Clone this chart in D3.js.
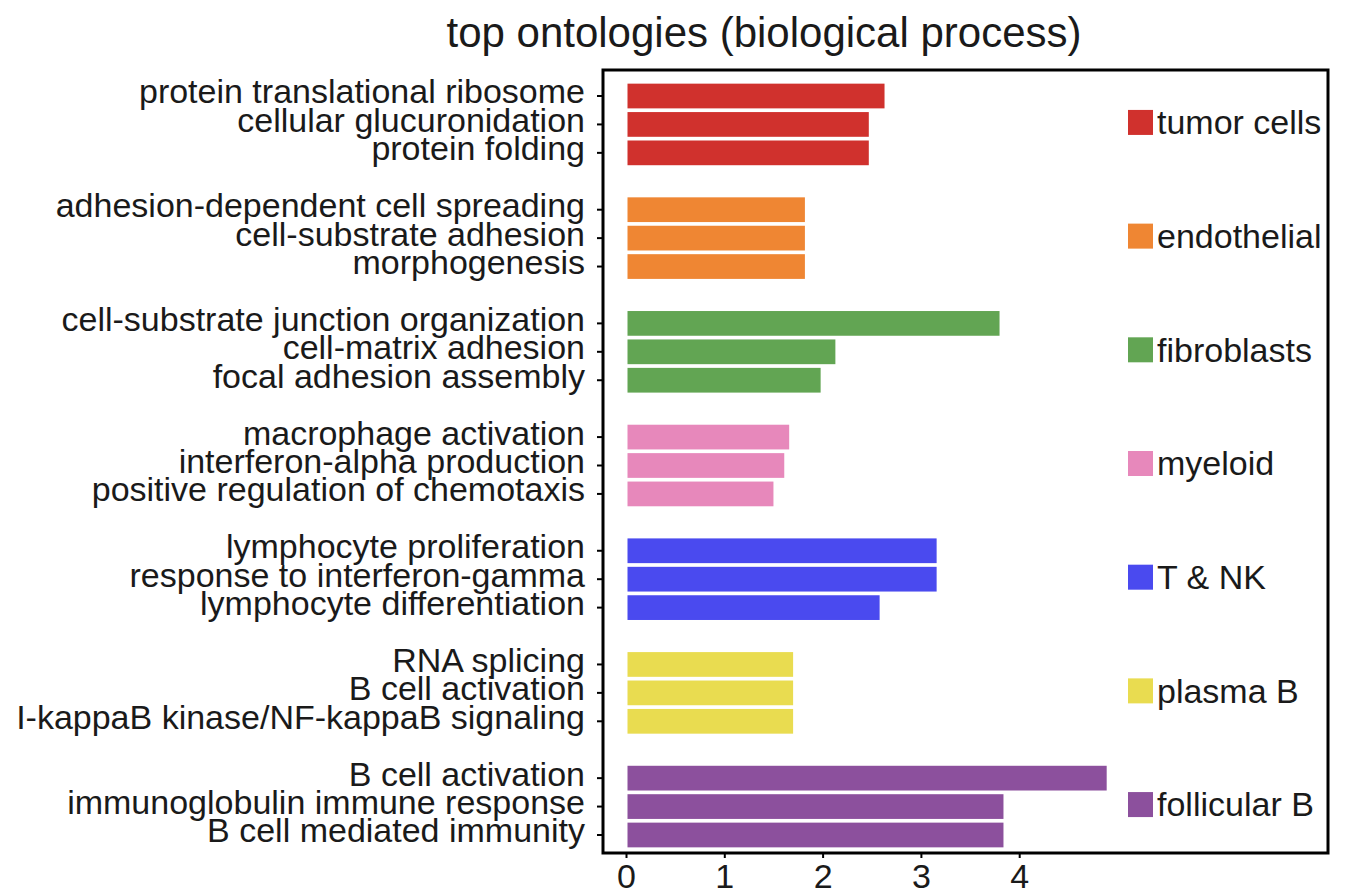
<!DOCTYPE html>
<html>
<head>
<meta charset="utf-8">
<script src="https://cdn.jsdelivr.net/npm/d3@7"></script>
<style>
  body { margin: 0; background: #fff; }
  text { font-family: "Liberation Sans", Arial, sans-serif; fill: #1a1a1a; }
</style>
</head>
<body>
<script>
// cell types (one group of 3 processes each) and their colours
var cellTypes = ["tumor cells", "endothelial", "fibroblasts", "myeloid", "T & NK", "plasma B", "follicular B"];
var colors = ["#d0312d", "#ef8633", "#62a553", "#e788bb", "#4a4aef", "#e9dc50", "#8c509d"];

// processes, top to bottom
var processes = [
    "protein translational ribosome", "cellular glucuronidation", "protein folding",
    "adhesion-dependent cell spreading", "cell-substrate adhesion", "morphogenesis",
    "cell-substrate junction organization", "cell-matrix adhesion", "focal adhesion assembly",
    "macrophage activation", "interferon-alpha production", "positive regulation of chemotaxis",
    "lymphocyte proliferation", "response to interferon-gamma", "lymphocyte differentiation",
    "RNA splicing", "B cell activation", "I-kappaB kinase/NF-kappaB signaling",
    "B cell activation", "immunoglobulin immune response", "B cell mediated immunity"
];
var scores = [
    2.63, 2.47, 2.47,
    1.82, 1.82, 1.82,
    3.80, 2.13, 1.98,
    1.66, 1.61, 1.50,
    3.16, 3.16, 2.58,
    1.70, 1.70, 1.70,
    4.89, 3.84, 3.84
];
var xTicks = [0, 1, 2, 3, 4];

var w = 1349, h = 888;
var frame = {left: 603, right: 1328, top: 70, bottom: 853};

var svg = d3.select("body")
    .append("svg")
    .attr("width", w)
    .attr("height", h);

// each group takes 3 slots plus one empty slot between groups
function slotOf(i) {
    return Math.floor(i / 3) * 4 + (i % 3);
}
var nSlots = cellTypes.length * 4 - 1;

var x = d3.scaleLinear()
    .domain([0, 4])
    .range([626, 1019.2]);

var y = d3.scaleBand()
    .domain(d3.range(nSlots))
    .range([81.8, 849.2])
    .paddingInner(0.13)
    .paddingOuter(0.065);

// bars
svg.selectAll("rect.bar")
    .data(scores)
    .enter()
    .append("rect")
    .attr("class", "bar")
    .attr("x", x(0) + 1.5)
    .attr("y", function(d, i) { return y(slotOf(i)); })
    .attr("width", function(d) { return x(d) - x(0) - 1.5; })
    .attr("height", y.bandwidth())
    .attr("fill", function(d, i) { return colors[Math.floor(i / 3)]; });

// frame
svg.append("rect")
    .attr("x", frame.left)
    .attr("y", frame.top)
    .attr("width", frame.right - frame.left)
    .attr("height", frame.bottom - frame.top)
    .attr("fill", "none")
    .attr("stroke", "#000")
    .attr("stroke-width", 3);

// y axis
var slotLabels = {};
processes.forEach(function(p, i) { slotLabels[slotOf(i)] = p; });

var yAxis = svg.append("g")
    .attr("transform", "translate(" + frame.left + ",0)")
    .call(d3.axisLeft(y)
        .tickValues(processes.map(function(p, i) { return slotOf(i); }))
        .tickFormat(function(d) { return slotLabels[d]; })
        .tickSize(6)
        .tickPadding(12));
yAxis.select(".domain").remove();
yAxis.selectAll("line").attr("stroke", "#000").attr("stroke-width", 2);
yAxis.selectAll("text")
    .attr("dy", "0.22em")
    .attr("font-family", "Liberation Sans, Arial, sans-serif")
    .attr("font-size", "34px")
    .attr("fill", "#1a1a1a");

// x axis
var xAxis = svg.append("g")
    .attr("transform", "translate(0," + frame.bottom + ")")
    .call(d3.axisBottom(x)
        .tickValues(xTicks)
        .tickFormat(d3.format("d"))
        .tickSize(5)
        .tickPadding(6));
xAxis.select(".domain").remove();
xAxis.selectAll("line").attr("stroke", "#000").attr("stroke-width", 2);
xAxis.selectAll("text")
    .attr("font-family", "Liberation Sans, Arial, sans-serif")
    .attr("font-size", "34px")
    .attr("fill", "#1a1a1a");

// legend
var legend = svg.selectAll("g.legend")
    .data(cellTypes)
    .enter()
    .append("g")
    .attr("class", "legend")
    .attr("transform", function(d, i) {
        return "translate(1128," + (y(i * 4 + 1) + y.bandwidth() / 2 - 2) + ")";
    });

legend.append("rect")
    .attr("x", 0)
    .attr("y", -12.5)
    .attr("width", 25)
    .attr("height", 25)
    .attr("fill", function(d, i) { return colors[i]; });

legend.append("text")
    .attr("x", 29)
    .attr("dy", "0.35em")
    .attr("font-size", "34px")
    .text(function(d) { return d; });

// title
svg.append("text")
    .attr("x", 764)
    .attr("y", 47)
    .attr("text-anchor", "middle")
    .attr("font-size", "42px")
    .text("top ontologies (biological process)");
</script>
</body>
</html>
